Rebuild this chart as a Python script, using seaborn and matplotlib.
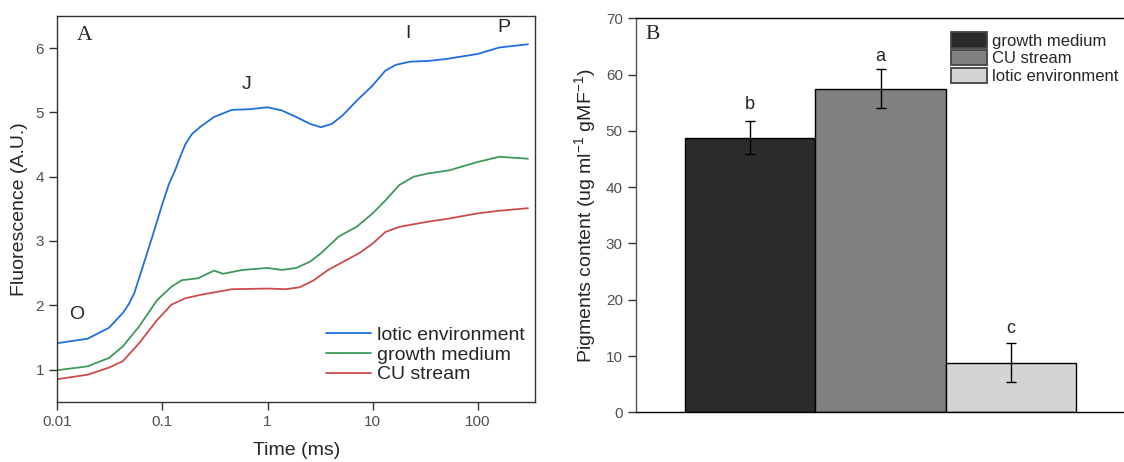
import numpy as np
import pandas as pd
import matplotlib
matplotlib.use('Agg')
import matplotlib.pyplot as plt
from matplotlib.patches import Patch
import seaborn as sns

sns.set_style('ticks')
plt.rcParams['font.family'] = ['Liberation Sans', 'DejaVu Sans']
plt.rcParams['mathtext.default'] = 'regular'

# ── Panel A: OJIP fluorescence transients ────────────────────
t_lotic = [0.01, 0.0194, 0.031, 0.042, 0.048, 0.054, 0.065, 0.082, 0.1, 0.115,
           0.132, 0.15, 0.166, 0.19, 0.227, 0.31, 0.458, 0.68, 1.0, 1.37,
           1.87, 2.55, 3.22, 4.07, 5.15, 7.03, 10, 13.2, 16.6, 22.7,
           33.5, 49.5, 100, 160, 300]
f_lotic = [1.41, 1.48, 1.65, 1.88, 2.02, 2.19, 2.60, 3.12, 3.58, 3.88,
           4.10, 4.34, 4.51, 4.66, 4.77, 4.93, 5.04, 5.05, 5.08, 5.03,
           4.93, 4.82, 4.77, 4.82, 4.95, 5.18, 5.42, 5.65, 5.74, 5.79,
           5.80, 5.83, 5.91, 6.01, 6.06]

t_growth = [0.01, 0.0194, 0.031, 0.042, 0.060, 0.089, 0.122, 0.153, 0.218, 0.31,
            0.377, 0.58, 1.0, 1.37, 1.87, 2.55, 3.22, 4.76, 7.03, 10,
            13.2, 17.9, 24.5, 33.5, 53.6, 100, 160, 300]
f_growth = [0.99, 1.05, 1.18, 1.36, 1.67, 2.08, 2.29, 2.39, 2.42, 2.54,
            2.49, 2.55, 2.58, 2.55, 2.58, 2.68, 2.81, 3.07, 3.22, 3.43,
            3.63, 3.87, 4.00, 4.05, 4.10, 4.23, 4.31, 4.28]

t_cu = [0.01, 0.0194, 0.031, 0.042, 0.060, 0.089, 0.122, 0.166, 0.227, 0.31,
        0.458, 1.0, 1.48, 2.02, 2.76, 3.77, 5.57, 7.6, 10, 13.2,
        17.9, 33.5, 53.6, 100, 160, 300]
f_cu = [0.85, 0.92, 1.03, 1.13, 1.41, 1.77, 2.01, 2.11, 2.16, 2.20,
        2.25, 2.26, 2.25, 2.28, 2.39, 2.55, 2.70, 2.82, 2.96, 3.14,
        3.22, 3.30, 3.35, 3.43, 3.47, 3.51]

# OJIP step labels (x in ms, y in A.U.)
steps = ['O', 'J', 'I', 'P']
step_t = [0.0154, 0.63, 21.5, 176]
step_f = [1.85, 5.44, 6.22, 6.32]

# ── Panel B: pigments content ─────────────────────────────────
groups = ['growth medium', 'CU stream', 'lotic environment']
pigments = [48.8, 57.5, 8.8]
pig_err = [2.9, 3.5, 3.5]
sig = ['b', 'a', 'c']
sig_y = [54.7, 63.3, 14.9]

TICK_C = '#505050'
line_cols = {'lotic environment': '#1f6ee0',
             'growth medium': '#3d9a5c',
             'CU stream': '#cc4c4c'}
bar_cols = ['#2b2b2b', '#808080', '#d4d4d4']

fig = plt.figure(figsize=(11.24, 4.62), dpi=100)
axA = fig.add_axes([57.3/1124, 1-401.7/462, 477.7/1124, 385.7/462])
axB = fig.add_axes([636/1124, 1-412.3/462, 488/1124, 394/462])

# ── A ──
curves = [('lotic environment', t_lotic, f_lotic),
          ('growth medium', t_growth, f_growth),
          ('CU stream', t_cu, f_cu)]
for name, t, f in curves:
    d = pd.DataFrame({'t': t, 'f': f})
    sns.lineplot(data=d, x='t', y='f', ax=axA, color=line_cols[name],
                 linewidth=1.3, label=name, sort=False)

axA.set_xscale('log')
axA.set_xlim(0.01, 350)
axA.set_ylim(0.5, 6.5)
axA.set_xticks([0.01, 0.1, 1, 10, 100])
axA.set_xticklabels(['0.01', '0.1', '1', '10', '100'])
axA.minorticks_off()
axA.set_yticks([1, 2, 3, 4, 5, 6])
axA.tick_params(labelsize=11, labelcolor=TICK_C, length=5.5, width=1, pad=4,
                color='#333333')
for s in axA.spines.values():
    s.set_color('#333333')
    s.set_linewidth(1)
axA.set_xlabel('Time (ms)', fontsize=14)
axA.set_ylabel('Fluorescence (A.U.)', fontsize=14)
axA.xaxis.set_label_coords(0.5, -0.105)
axA.yaxis.set_label_coords(-0.062, 0.5)

for s, x, y in zip(steps, step_t, step_f):
    axA.text(x, y, s, fontsize=14, ha='center', va='center')
axA.text(0.056, 0.949, 'A', transform=axA.transAxes, fontsize=15.5,
         family=['Liberation Serif', 'DejaVu Serif'], ha='center', va='center')

axA.legend(loc='center left', bbox_to_anchor=(0.5625, 0.121), frameon=False,
           fontsize=14, handlelength=2.3, handletextpad=0.31, labelspacing=0.1,
           borderpad=0, borderaxespad=0)

# ── B ──
dB = pd.DataFrame({'group': groups, 'value': pigments})
sns.barplot(data=dB, x='group', y='value', hue='group', order=groups,
            hue_order=groups, palette=bar_cols, width=1.0, edgecolor='black',
            linewidth=1, ax=axB, legend=False, saturation=1)
axB.errorbar(range(len(groups)), pigments, yerr=pig_err, fmt='none',
             ecolor='black', elinewidth=1, capsize=3.5, capthick=1)
for i, (s, y) in enumerate(zip(sig, sig_y)):
    axB.text(i, y, s, fontsize=13, ha='center', va='center')

axB.set_xlim(-0.873, 2.865)
axB.set_ylim(0, 70)
axB.set_yticks(range(0, 71, 10))
axB.set_xticks([])
axB.set_xlabel('')
axB.set_ylabel('Pigments content (ug ml$^{-1}$ gMF$^{-1}$)', fontsize=14)
axB.yaxis.set_label_coords(-0.077, 0.5)
axB.tick_params(axis='y', labelsize=11, labelcolor=TICK_C, length=5.5, width=1,
                pad=4, color='#333333')
axB.spines['right'].set_visible(False)
axB.spines['left'].set_color('#555555')
axB.spines['top'].set_color('black')
axB.spines['bottom'].set_color('black')
for s in axB.spines.values():
    s.set_linewidth(1)
axB.text(0.034, 0.960, 'B', transform=axB.transAxes, fontsize=15.5,
         family=['Liberation Serif', 'DejaVu Serif'], ha='center', va='center')

handles = [Patch(facecolor=c, edgecolor='#444444', linewidth=1.3) for c in bar_cols]
axB.legend(handles, groups, loc='center left', bbox_to_anchor=(0.645, 0.899),
           frameon=False, fontsize=12, handlelength=2.19, handleheight=1.04,
           handletextpad=0.26, labelspacing=0.08, borderpad=0, borderaxespad=0)

fig.savefig('out.png', dpi=100)
